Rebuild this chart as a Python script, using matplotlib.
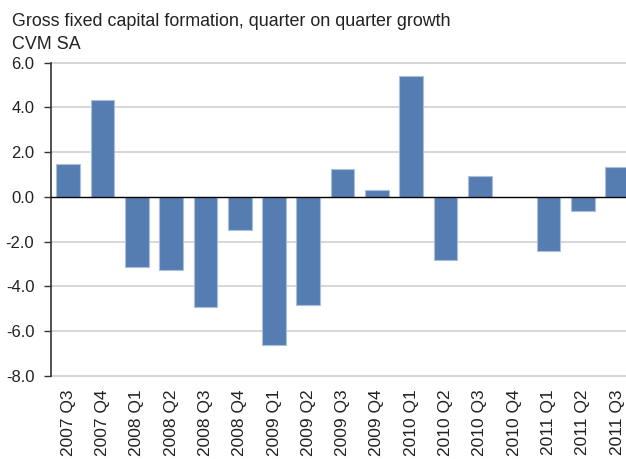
import matplotlib
matplotlib.use("Agg")
import matplotlib.pyplot as plt

categories = ["2007 Q3", "2007 Q4", "2008 Q1", "2008 Q2", "2008 Q3", "2008 Q4",
              "2009 Q1", "2009 Q2", "2009 Q3", "2009 Q4", "2010 Q1", "2010 Q2",
              "2010 Q3", "2010 Q4", "2011 Q1", "2011 Q2", "2011 Q3"]
values = [1.45, 4.33, -3.14, -3.26, -4.94, -1.50, -6.64, -4.84, 1.26, 0.32,
          5.40, -2.83, 0.94, 0.0, -2.44, -0.62, 1.32]
yticks = [-8.0, -6.0, -4.0, -2.0, 0.0, 2.0, 4.0, 6.0]

plt.rcParams['font.family'] = ['Liberation Sans', 'DejaVu Sans']

fig = plt.figure(figsize=(6.26, 4.59), dpi=100)
ax = fig.add_axes([0.0815, 0.1815, 1 - 0.0815, 0.8634 - 0.1815])

x = list(range(len(categories)))
ax.bar(x, values, width=0.69, color="#567db2", edgecolor="#a9bfdc", linewidth=0.8, zorder=3)
for v in yticks:
    if v != 0:
        ax.axhline(v, color="#cfcfcf", linewidth=1.2, zorder=0, clip_on=False)
ax.axhline(0, color="black", linewidth=1.0, zorder=4)

ax.set_ylim(-8, 6)
ax.set_xlim(-0.5, 16.26)
ax.set_yticks(yticks)
ax.set_yticklabels([f"{v:.1f}" for v in yticks], fontsize=12, color="#222222")
ax.set_xticks(x)
ax.set_xticklabels(categories, rotation=90, fontsize=12.5, color="#222222")
ax.tick_params(axis="x", length=0, pad=10)
ax.tick_params(axis="y", length=5, width=1, color="#333333", pad=7)

for s in ["top", "right", "bottom"]:
    ax.spines[s].set_visible(False)
ax.spines["left"].set_color("#333333")
ax.spines["left"].set_linewidth(1.2)

fig.text(12 / 626, 1 - 26 / 459, "Gross fixed capital formation, quarter on quarter growth",
         fontsize=12.9, color="#222222", va="baseline", ha="left")
fig.text(12 / 626, 1 - 49 / 459, "CVM SA", fontsize=12.9, color="#222222", va="baseline", ha="left")

fig.savefig("out.png", dpi=100)
